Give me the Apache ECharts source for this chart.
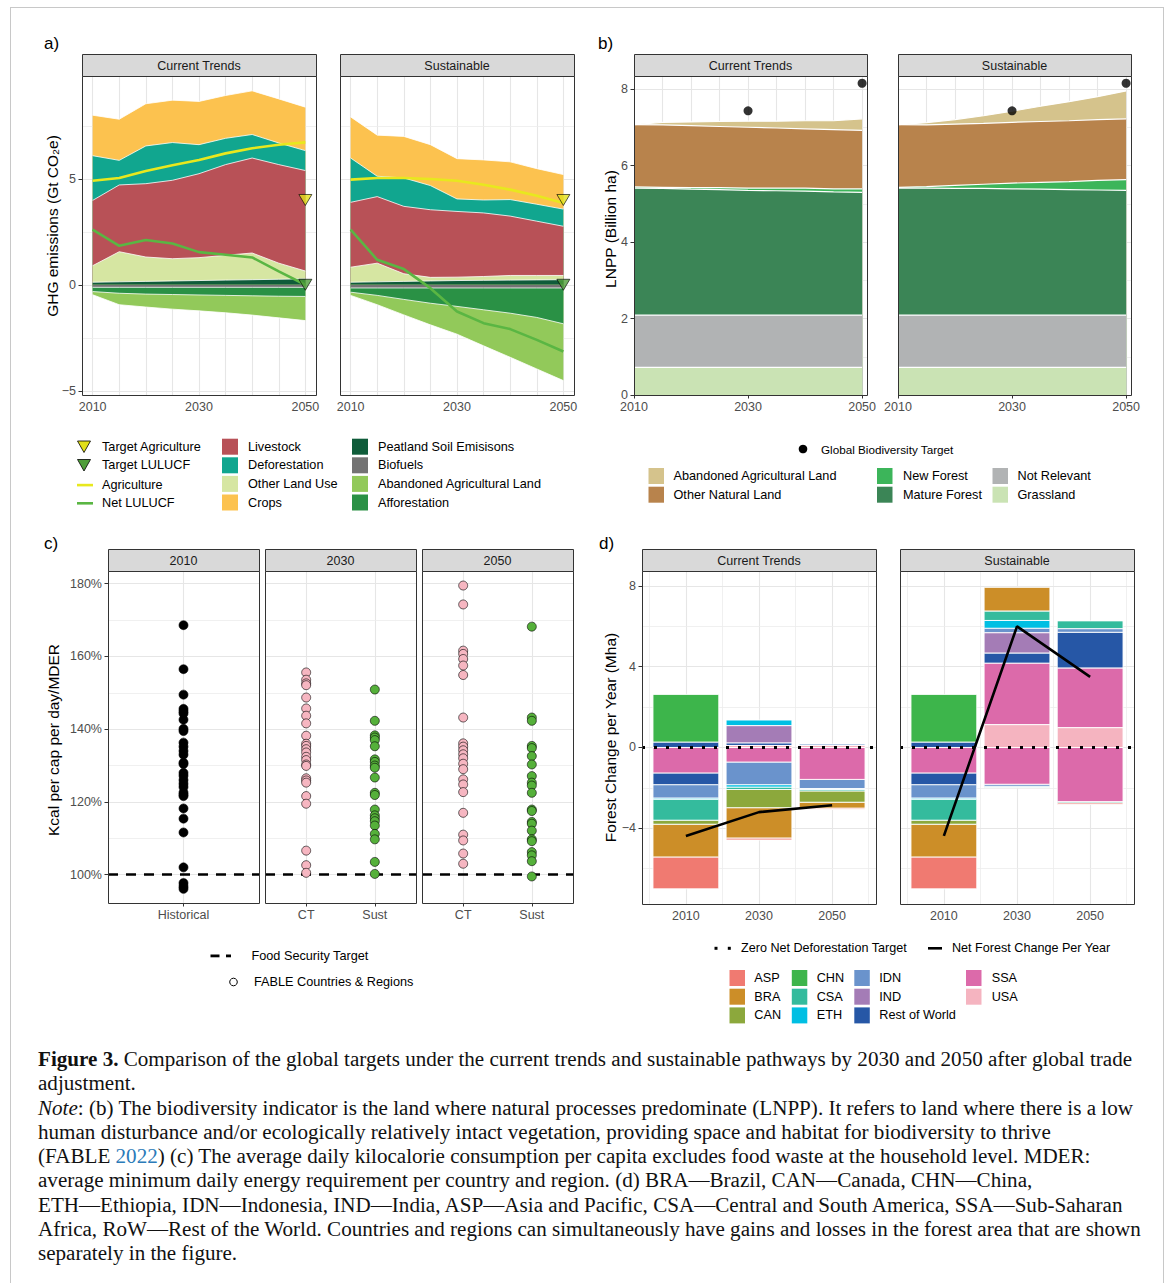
<!DOCTYPE html>
<html>
<head>
<meta charset="utf-8">
<title>Figure 3</title>
<script src="https://cdn.jsdelivr.net/npm/echarts@6.0.0/dist/echarts.min.js"></script>
<style>
  html, body { margin: 0; padding: 0; background: #fff; }
  #wrap { position: relative; width: 1170px; height: 1283px; overflow: hidden; }
  #chart { position: absolute; left: 0; top: 0; width: 1170px; height: 1040px; }
  #frame { position: absolute; left: 10px; top: 7px; width: 1152px; height: 1400px; border: 1.5px solid #c8c8c8; }
  #caption { position: absolute; left: 38px; top: 1047px; font-family: "Liberation Serif", "Times New Roman", serif;
             font-size: 21.1px; line-height: 24.25px; color: #111; white-space: nowrap; }
  #caption .ref { color: #2b7bb9; }
</style>
</head>
<body>
<div id="wrap">
  <div id="frame"></div>
  <div id="chart"></div>
  <div id="caption">
    <div><b>Figure 3.</b> Comparison of the global targets under the current trends and sustainable pathways by 2030 and 2050 after global trade</div>
    <div>adjustment.</div>
    <div><i>Note</i>: (b) The biodiversity indicator is the land where natural processes predominate (LNPP). It refers to land where there is a low</div>
    <div>human disturbance and/or ecologically relatively intact vegetation, providing space and habitat for biodiversity to thrive</div>
    <div>(FABLE <span class="ref">2022</span>) (c) The average daily kilocalorie consumption per capita excludes food waste at the household level. MDER:</div>
    <div>average minimum daily energy requirement per country and region. (d) BRA—Brazil, CAN—Canada, CHN—China,</div>
    <div>ETH—Ethiopia, IDN—Indonesia, IND—India, ASP—Asia and Pacific, CSA—Central and South America, SSA—Sub-Saharan</div>
    <div>Africa, RoW—Rest of the World. Countries and regions can simultaneously have gains and losses in the forest area that are shown</div>
    <div>separately in the figure.</div>
  </div>
</div>
<script>
// ---------- data: panel a (GHG emissions, Gt CO2e) ----------
const years = [2010, 2015, 2020, 2025, 2030, 2035, 2040, 2045, 2050];

const peatCT      = [0.12, 0.14, 0.16, 0.18, 0.20, 0.22, 0.24, 0.26, 0.28];
const otherLuCT   = [0.78, 1.42, 1.15, 1.05, 1.08, 1.17, 1.26, 0.76, 0.37];
const livestockCT = [3.08, 3.15, 3.46, 3.70, 3.96, 4.28, 4.48, 4.65, 4.74];
const deforCT     = [2.11, 1.16, 1.78, 1.78, 1.37, 1.24, 1.11, 1.02, 0.94];
const cropsCT     = [1.91, 1.94, 1.99, 2.00, 2.04, 2.02, 2.06, 2.08, 2.05];
const biofuelCT   = [-0.12, -0.12, -0.12, -0.12, -0.12, -0.12, -0.12, -0.12, -0.12];
const afforCT     = [-0.20, -0.28, -0.32, -0.34, -0.36, -0.38, -0.40, -0.42, -0.43];
const abandCT     = [-0.15, -0.54, -0.61, -0.69, -0.75, -0.82, -0.91, -1.02, -1.14];
const agriCT      = [4.91, 5.04, 5.37, 5.64, 5.89, 6.20, 6.44, 6.61, 6.72];
const lulucfCT    = [2.60, 1.84, 2.11, 1.95, 1.54, 1.42, 1.29, 0.63, 0.00];

const peatS       = [0.12, 0.14, 0.16, 0.18, 0.20, 0.21, 0.22, 0.23, 0.24];
const otherLuS    = [0.71, 0.88, 0.36, 0.17, 0.16, 0.18, 0.22, 0.21, 0.20];
const livestockS  = [3.06, 3.14, 3.18, 3.19, 3.10, 3.00, 2.80, 2.56, 2.32];
const deforS      = [2.09, 0.96, 1.34, 1.14, 0.59, 0.61, 0.78, 0.80, 0.81];
const cropsS      = [1.94, 1.94, 1.96, 1.93, 1.90, 1.89, 1.78, 1.68, 1.63];
const biofuelS    = [-0.15, -0.15, -0.15, -0.15, -0.15, -0.15, -0.15, -0.15, -0.15];
const afforS      = [-0.20, -0.35, -0.54, -0.72, -0.87, -1.03, -1.19, -1.39, -1.69];
const abandS      = [-0.15, -0.44, -0.73, -1.02, -1.31, -1.70, -2.08, -2.43, -2.68];
const agriS       = [4.96, 5.04, 5.04, 4.99, 4.91, 4.72, 4.49, 4.20, 3.86];
const lulucfS     = [2.60, 1.18, 0.74, -0.16, -1.26, -1.81, -2.09, -2.60, -3.15];

const targetAgri = 4.0;     // 2050
const targetLulucf = 0.0;   // 2050

// ---------- data: panel b (LNPP, billion ha) ----------
const grassCT     = [0.72, 0.72, 0.72, 0.72, 0.72, 0.72, 0.72, 0.72, 0.72];
const notRelCT    = [1.37, 1.37, 1.37, 1.37, 1.37, 1.37, 1.37, 1.37, 1.37];
const matureCT    = [3.32, 3.31, 3.29, 3.28, 3.26, 3.25, 3.24, 3.22, 3.21];
const newForCT    = [0.03, 0.03, 0.04, 0.05, 0.06, 0.07, 0.08, 0.08, 0.09];
const otherNatCT  = [1.63, 1.63, 1.62, 1.60, 1.59, 1.57, 1.55, 1.55, 1.53];
const abandLandCT = [0.00, 0.07, 0.10, 0.13, 0.16, 0.18, 0.21, 0.23, 0.30];

const grassS      = [0.72, 0.72, 0.72, 0.72, 0.72, 0.72, 0.72, 0.72, 0.72];
const notRelS     = [1.37, 1.37, 1.37, 1.37, 1.37, 1.37, 1.37, 1.37, 1.37];
const matureS     = [3.32, 3.32, 3.31, 3.31, 3.30, 3.29, 3.28, 3.27, 3.26];
const newForS     = [0.02, 0.04, 0.08, 0.11, 0.15, 0.18, 0.21, 0.25, 0.28];
const otherNatS   = [1.64, 1.61, 1.60, 1.59, 1.59, 1.59, 1.59, 1.59, 1.59];
const abandLandS  = [0.00, 0.06, 0.12, 0.20, 0.29, 0.40, 0.50, 0.60, 0.73];

const bioTargetYears = [2030, 2050];
const bioTarget = [7.43, 8.15];

// ---------- data: panel c (kcal per cap per day / MDER, %) ----------
const hist2010 = [168.6, 156.5, 149.5, 145.6, 144.9, 144.3, 142.6, 140.1, 139.5, 136.3, 135.2, 134.0, 133.0, 130.8, 130.4,
                  128.0, 127.2, 126.0, 125.0, 124.1, 122.6, 122.0, 121.6, 118.2, 115.4, 111.6, 102.0, 97.7, 96.8, 96.1];
const ct2030   = [155.6, 153.6, 152.6, 152.1, 148.7, 145.7, 143.7, 141.6, 138.2, 136.0, 135.4, 134.5, 133.6, 132.4, 131.5,
                  130.3, 129.9, 126.5, 125.9, 125.3, 121.6, 119.5, 106.6, 102.6, 100.5];
const sust2030 = [150.9, 142.3, 138.3, 137.7, 137.0, 135.3, 131.7, 131.0, 130.0, 129.4, 126.7, 122.5, 121.9, 117.9, 116.3,
                  115.5, 114.7, 113.5, 111.2, 109.7, 103.5, 100.2];
const ct2050   = [179.5, 174.3, 161.6, 160.7, 159.3, 157.5, 154.9, 143.2, 136.1, 135.2, 134.2, 133.1, 132.0, 130.5, 129.0,
                  126.2, 124.8, 122.7, 117.0, 111.0, 109.4, 105.8, 103.0];
const sust2050 = [168.2, 143.2, 142.3, 135.4, 134.8, 132.6, 130.3, 127.1, 125.3, 124.5, 122.5, 117.9, 117.5, 114.5, 114.0,
                  112.1, 109.7, 109.2, 106.2, 105.3, 103.7, 99.5];
const foodTarget = 100;

// ---------- data: panel d (forest change per year, Mha) ----------
const dYears  = ['2010', '2030', '2050'];
const regions = ['ASP', 'BRA', 'CAN', 'CHN', 'CSA', 'ETH', 'IDN', 'IND', 'Rest of World', 'SSA', 'USA'];
//                    ASP    BRA    CAN    CHN   CSA    ETH    IDN    IND   RoW    SSA    USA
const ctGain2010 = [0,     0,     0,     2.37, 0,     0,     0,     0,    0.26,  0,     0];
const ctLoss2010 = [-1.58, -1.62, -0.20, 0,    -1.04, -0.06, -0.66, 0,    -0.58, -1.26, 0];
const ctGain2030 = [0,     0,     0,     0,    0,     0.28,  0,     0.86, 0.12,  0,     0.10];
const ctLoss2030 = [-0.10, -1.50, -0.90, 0,    -0.12, -0.12, -1.12, 0,    0,     -0.72, 0];
const ctGain2050 = [0,     0,     0,     0,    0,     0,     0.07,  0,    0,     0,     0.10];
const ctLoss2050 = [-0.07, -0.29, -0.56, 0,    -0.07, -0.05, -0.45, 0,    0,     -1.58, 0];
const sGain2010  = [0,     0,     0,     2.37, 0,     0,     0,     0,    0.26,  0,     0];
const sLoss2010  = [-1.58, -1.62, -0.20, 0,    -1.04, -0.06, -0.66, 0,    -0.58, -1.26, 0];
const sGain2030  = [0,     1.18,  0,     0,    0.46,  0.39,  0.22,  1.01, 0.50,  3.04,  1.13];
const sLoss2030  = [0,     0,     0,     0,    -0.06, 0,     -0.10, 0,    0,     -1.82, 0];
const sGain2050  = [0,     0,     0,     0,    0.39,  0,     0.18,  0,    1.77,  2.95,  0.98];
const sLoss2050  = [-0.08, 0,     0,     0,    -0.06, 0,     0,     0,    0,     -2.68, 0];
const netCT = [-4.38, -3.20, -2.86];
const netS  = [-4.38, 6.00, 3.50];

// ---------- styling ----------
const FONT = '"Liberation Sans", Arial, Helvetica, sans-serif';
const regionColors = ['#f07a71', '#cc8e28', '#8ca83c', '#3db54b', '#34bb9d', '#00bfe3',
                      '#6a93cc', '#a47cb6', '#2657a6', '#dc6aaa', '#f5b4c0'];
const cA = { livestock: '#b85157', defor: '#11a68f', otherLu: '#d6e6a2', crops: '#fcc24f',
             peat: '#0f5c3a', biofuel: '#737373', aband: '#92c95a', affor: '#2a9145',
             agri: '#e8e81e', lulucf: '#5ab643', tAgri: '#e2e01a', tLulucf: '#4f9e3a' };
const cB = { aband: '#d5c38c', otherNat: '#b8834c', newFor: '#3cb55a', mature: '#3b8556',
             notRel: '#b1b3b4', grass: '#cae3b4' };

const grids = [], xAxes = [], yAxes = [], series = [], gfx = [];

function text(x, y, s, o) {
  o = o || {};
  gfx.push({
    type: 'text', x: x, y: y, rotation: o.rot || 0, z: 120, silent: true,
    style: {
      text: s, fill: o.color || '#000',
      font: (o.weight || 'normal') + ' ' + (o.size || 12.7) + 'px ' + FONT,
      textAlign: o.align || 'left', textVerticalAlign: 'middle',
      align: o.align || 'left', verticalAlign: 'middle'
    }
  });
}
function rect(x, y, w, h, fill, stroke, lw, z) {
  gfx.push({ type: 'rect', z: z || 110, silent: true, shape: { x: x, y: y, width: w, height: h },
             style: { fill: fill, stroke: stroke || null, lineWidth: lw || 0 } });
}

// one facet panel: grid, axes, hand-drawn grid lines, border and strip
function panel(p) {
  const gi = grids.length;
  grids.push({ left: p.x, top: p.y, width: p.w, height: p.h, containLabel: false });
  const lab = { color: '#4d4d4d', fontSize: 12.5, fontFamily: FONT };
  xAxes.push({
    gridIndex: gi, type: 'value', min: p.xr[0], max: p.xr[1],
    splitLine: { show: false }, axisLine: { show: false },
    axisTick: { show: true, customValues: p.xt, length: 3.5, lineStyle: { color: '#333', width: 1 } },
    axisLabel: Object.assign({ show: true, customValues: p.xt, margin: 5, formatter: p.xf }, lab)
  });
  yAxes.push({
    gridIndex: gi, type: 'value', min: p.yr[0], max: p.yr[1],
    splitLine: { show: false }, axisLine: { show: false },
    axisTick: { show: !!p.yf, customValues: p.yt, length: 3.5, lineStyle: { color: '#333', width: 1 } },
    axisLabel: Object.assign({ show: !!p.yf, customValues: p.yt, margin: 6, formatter: p.yf }, lab)
  });
  const ml = [];
  (p.vMaj || []).forEach(v => ml.push({ xAxis: v, lineStyle: { color: '#e6e6e6', width: 1.1, type: 'solid' } }));
  (p.vMin || []).forEach(v => ml.push({ xAxis: v, lineStyle: { color: '#ececec', width: 0.8, type: 'solid' } }));
  (p.hMaj || []).forEach(v => ml.push({ yAxis: v, lineStyle: { color: '#e6e6e6', width: 1.1, type: 'solid' } }));
  (p.hMin || []).forEach(v => ml.push({ yAxis: v, lineStyle: { color: '#ececec', width: 0.8, type: 'solid' } }));
  series.push({
    type: 'line', xAxisIndex: gi, yAxisIndex: gi, data: [], silent: true, z: 1,
    markLine: { silent: true, symbol: ['none', 'none'], animation: false, z: 1, label: { show: false }, data: ml }
  });
  rect(p.x + 0.5, p.y + 0.5, p.w, p.h, 'none', '#333', 1, 115);
  if (p.strip) {
    rect(p.x + 0.5, p.y - p.sh + 0.5, p.w, p.sh, '#d9d9d9', '#333', 1, 115);
    text(p.x + p.w / 2, p.y - p.sh / 2 + 0.5, p.strip, { align: 'center', size: 12.5, color: '#1a1a1a' });
  }
  return gi;
}

const minus = v => (v < 0 ? '\u2212' + Math.abs(v) : String(v));

// running sums of layer thicknesses (one sign at a time)
function cumulate(layers) {
  const out = [];
  let acc = years.map(() => 0);
  layers.forEach(l => { acc = acc.map((a, k) => a + l[k]); out.push(acc); });
  return out;
}
// area filled down to zero; layers drawn outermost first so inner ones paint over them
function area(gi, name, color, vals, lw) {
  series.push({
    type: 'line', name: name, xAxisIndex: gi, yAxisIndex: gi,
    symbol: 'none', showSymbol: false, silent: true, z: 2,
    lineStyle: { color: '#fff', width: lw }, areaStyle: { color: color, opacity: 1, origin: 'auto' },
    itemStyle: { color: color },
    data: years.map((y, k) => [y, vals[k]])
  });
}
function stackAreas(gi, layers, colors, names, lw) {
  const cum = cumulate(layers);
  for (let k = cum.length - 1; k >= 0; k--) area(gi, names[k], colors[k], cum[k], lw);
}
function line(gi, name, color, xs, vals, w, z) {
  series.push({
    type: 'line', name: name, xAxisIndex: gi, yAxisIndex: gi, symbol: 'none', showSymbol: false, silent: true,
    z: z || 4, lineStyle: { color: color, width: w }, itemStyle: { color: color },
    data: xs.map((x, k) => [x, vals[k]])
  });
}

// ---------- panel a ----------
const aCommon = { y: 76, w: 234, h: 319, sh: 22, xr: [2008, 2052], yr: [-5.2, 9.85],
  xt: [2010, 2030, 2050], xf: v => String(v), yt: [-5, 0, 5],
  vMaj: [2010, 2015, 2020, 2025, 2030, 2035, 2040, 2045, 2050], hMaj: [-5, 0, 5], hMin: [-2.5, 2.5, 7.5] };
const ga = [
  panel(Object.assign({}, aCommon, { x: 82, strip: 'Current Trends', yf: minus })),
  panel(Object.assign({}, aCommon, { x: 340, strip: 'Sustainable' }))
];
[[peatCT, otherLuCT, livestockCT, deforCT, cropsCT, biofuelCT, afforCT, abandCT, agriCT, lulucfCT],
 [peatS, otherLuS, livestockS, deforS, cropsS, biofuelS, afforS, abandS, agriS, lulucfS]].forEach((d, f) => {
  const gi = ga[f];
  stackAreas(gi, [d[0], d[1], d[2], d[3], d[4]],
    [cA.peat, cA.otherLu, cA.livestock, cA.defor, cA.crops],
    ['Peatland Soil Emisisons', 'Other Land Use', 'Livestock', 'Deforestation', 'Crops'], 0.8);
  stackAreas(gi, [d[5], d[6], d[7]],
    [cA.biofuel, cA.affor, cA.aband],
    ['Biofuels', 'Afforestation', 'Abandoned Agricultural Land'], 0.8);
  line(gi, 'Agriculture', cA.agri, years, d[8], 2.6, 4);
  line(gi, 'Net LULUCF', cA.lulucf, years, d[9], 2.6, 4);
  series.push({ type: 'scatter', name: 'Target Agriculture', xAxisIndex: gi, yAxisIndex: gi, z: 6, silent: true, clip: false,
    symbol: 'triangle', symbolRotate: 180, symbolSize: [13, 11],
    itemStyle: { color: cA.tAgri, borderColor: '#000', borderWidth: 0.8 }, data: [[2050, targetAgri]] });
  series.push({ type: 'scatter', name: 'Target LULUCF', xAxisIndex: gi, yAxisIndex: gi, z: 6, silent: true, clip: false,
    symbol: 'triangle', symbolRotate: 180, symbolSize: [13, 11],
    itemStyle: { color: cA.tLulucf, borderColor: '#000', borderWidth: 0.8 }, data: [[2050, targetLulucf]] });
});

// ---------- panel b ----------
const bCommon = { y: 76, w: 233, h: 319, sh: 22, xr: [2010, 2050.86], yr: [0, 8.34],
  xt: [2010, 2030, 2050], xf: v => String(v), yt: [0, 2, 4, 6, 8],
  vMaj: [2015, 2020, 2025, 2030, 2035, 2040, 2045, 2050], hMaj: [2, 4, 6, 8], hMin: [1, 3, 5, 7] };
const gb = [
  panel(Object.assign({}, bCommon, { x: 634, strip: 'Current Trends', yf: v => String(v) })),
  panel(Object.assign({}, bCommon, { x: 898, strip: 'Sustainable' }))
];
[[grassCT, notRelCT, matureCT, newForCT, otherNatCT, abandLandCT],
 [grassS, notRelS, matureS, newForS, otherNatS, abandLandS]].forEach((d, f) => {
  const gi = gb[f];
  stackAreas(gi, d,
    [cB.grass, cB.notRel, cB.mature, cB.newFor, cB.otherNat, cB.aband],
    ['Grassland', 'Not Relevant', 'Mature Forest', 'New Forest', 'Other Natural Land', 'Abandoned Agricultural Land'], 1.2);
  series.push({ type: 'scatter', name: 'Global Biodiversity Target', xAxisIndex: gi, yAxisIndex: gi, z: 6, silent: true,
    clip: false, symbolSize: 9, itemStyle: { color: '#000' },
    data: bioTargetYears.map((y, k) => [y, bioTarget[k]]) });
});

// ---------- panel c ----------
const cCommon = { y: 571, w: 151, h: 332, sh: 22, yr: [92.2, 183.5], yt: [100, 120, 140, 160, 180],
  hMaj: [100, 120, 140, 160, 180], hMin: [110, 130, 150, 170] };
const gc = [
  panel(Object.assign({}, cCommon, { x: 108, strip: '2010', xr: [0.4, 1.6], xt: [1], xf: () => 'Historical',
    vMaj: [1], yf: v => v + '%' })),
  panel(Object.assign({}, cCommon, { x: 265, strip: '2030', xr: [0.4, 2.6], xt: [1, 2], xf: v => (v === 1 ? 'CT' : 'Sust'),
    vMaj: [1, 2] })),
  panel(Object.assign({}, cCommon, { x: 422, strip: '2050', xr: [0.4, 2.6], xt: [1, 2], xf: v => (v === 1 ? 'CT' : 'Sust'),
    vMaj: [1, 2] }))
];
gc.forEach(gi => {
  series.push({ type: 'line', xAxisIndex: gi, yAxisIndex: gi, data: [], silent: true, z: 3,
    markLine: { silent: true, symbol: ['none', 'none'], animation: false, z: 3, label: { show: false },
      lineStyle: { color: '#000', width: 2.6, type: [10, 8] }, data: [{ yAxis: foodTarget }] } });
});
function dots(gi, x, vals, color) {
  series.push({ type: 'scatter', name: 'FABLE Countries & Regions', xAxisIndex: gi, yAxisIndex: gi, z: 5, silent: true,
    symbolSize: 9, itemStyle: { color: color, borderColor: '#000', borderWidth: 0.6, opacity: 1 },
    data: vals.map(v => [x, v]) });
}
dots(gc[0], 1, hist2010, '#000');
dots(gc[1], 1, ct2030, '#f6b6c1');
dots(gc[1], 2, sust2030, '#55b03a');
dots(gc[2], 1, ct2050, '#f6b6c1');
dots(gc[2], 2, sust2050, '#55b03a');

// ---------- panel d ----------
const dCommon = { y: 571, w: 234, h: 333, sh: 22, xr: [0.4, 3.6], yr: [-7.75, 8.74],
  xt: [1, 2, 3], xf: v => dYears[Math.round(v) - 1], yt: [-4, 0, 4, 8],
  vMaj: [1, 2, 3], vMin: [0.5, 1.5, 2.5, 3.5], hMaj: [-4, 0, 4, 8], hMin: [-6, -2, 2, 6] };
const gd = [
  panel(Object.assign({}, dCommon, { x: 642, strip: 'Current Trends', yf: minus })),
  panel(Object.assign({}, dCommon, { x: 900, strip: 'Sustainable' }))
];
// stacked bar segments [x, bottom, top]; last region sits next to zero, first region outermost
function barSegments(gainsByYear, lossesByYear) {
  const segs = regions.map(() => []);
  gainsByYear.forEach((yr, k) => {
    let up = 0, down = 0;
    for (let r = regions.length - 1; r >= 0; r--) {
      if (yr[r] > 0) { segs[r].push([k + 1, up, up + yr[r]]); up += yr[r]; }
      const l = lossesByYear[k][r];
      if (l < 0) { segs[r].push([k + 1, down + l, down]); down += l; }
    }
  });
  return segs;
}
const halfBar = 0.45;
[[[ctGain2010, ctGain2030, ctGain2050], [ctLoss2010, ctLoss2030, ctLoss2050], netCT],
 [[sGain2010, sGain2030, sGain2050], [sLoss2010, sLoss2030, sLoss2050], netS]].forEach((d, f) => {
  const gi = gd[f];
  const segs = barSegments(d[0], d[1]);
  regions.forEach((name, r) => {
    const color = regionColors[r];
    series.push({
      type: 'custom', name: name, xAxisIndex: gi, yAxisIndex: gi, z: 2, silent: true,
      encode: { x: 0, y: [1, 2] },
      renderItem: (params, api) => {
        const x = api.value(0), lo = api.value(1), hi = api.value(2);
        const a = api.coord([x - halfBar, hi]), b = api.coord([x + halfBar, lo]);
        return { type: 'rect', shape: { x: a[0], y: a[1], width: b[0] - a[0], height: b[1] - a[1] },
                 style: { fill: color, stroke: '#fff', lineWidth: 0.9 } };
      },
      data: segs[r]
    });
  });
  series.push({ type: 'line', xAxisIndex: gi, yAxisIndex: gi, data: [], silent: true, z: 8,
    markLine: { silent: true, symbol: ['none', 'none'], animation: false, z: 8, label: { show: false },
      lineStyle: { color: '#000', width: 3, type: [3, 9], cap: 'butt' }, data: [{ yAxis: 0 }] } });
  line(gi, 'Net Forest Change Per Year', '#000', [1, 2, 3], d[2], 2.6, 9);
});

// ---------- titles, panel letters ----------
text(44, 43.5, 'a)', { size: 17 });
text(598, 43.5, 'b)', { size: 17 });
text(44, 543, 'c)', { size: 17 });
text(599, 543, 'd)', { size: 17 });
text(52, 226, 'GHG emissions (Gt CO\u2082e)', { size: 15.5, rot: Math.PI / 2, align: 'center' });
text(610.5, 229, 'LNPP (Billion ha)', { size: 15.5, rot: Math.PI / 2, align: 'center' });
text(53.5, 740, 'Kcal per cap per day/MDER', { size: 15.5, rot: Math.PI / 2, align: 'center' });
text(610, 737.5, 'Forest Change per Year (Mha)', { size: 15.5, rot: Math.PI / 2, align: 'center' });

// ---------- legend a ----------
gfx.push({ type: 'polygon', z: 110, silent: true, shape: { points: [[77.5, 441], [90.5, 441], [84, 452.5]] },
  style: { fill: cA.tAgri, stroke: '#000', lineWidth: 0.8 } });
gfx.push({ type: 'polygon', z: 110, silent: true, shape: { points: [[77.5, 459.5], [90.5, 459.5], [84, 471]] },
  style: { fill: cA.tLulucf, stroke: '#000', lineWidth: 0.8 } });
rect(77, 483.8, 16, 2.6, cA.agri);
rect(77, 502, 16, 2.6, cA.lulucf);
text(102, 446.5, 'Target Agriculture');
text(102, 465, 'Target LULUCF');
text(102, 485, 'Agriculture');
text(102, 503.3, 'Net LULUCF');
[['Livestock', cA.livestock], ['Deforestation', cA.defor], ['Other Land Use', cA.otherLu], ['Crops', cA.crops]]
  .forEach((e, k) => { const yc = 446.7 + k * 18.6; rect(222, yc - 8, 16, 16, e[1]); text(248, yc, e[0]); });
[['Peatland Soil Emisisons', cA.peat], ['Biofuels', cA.biofuel], ['Abandoned Agricultural Land', cA.aband], ['Afforestation', cA.affor]]
  .forEach((e, k) => { const yc = 446.7 + k * 18.6; rect(352, yc - 8, 16, 16, e[1]); text(378, yc, e[0]); });

// ---------- legend b ----------
gfx.push({ type: 'circle', z: 110, silent: true, shape: { cx: 803, cy: 449, r: 4.3 }, style: { fill: '#000' } });
text(821, 449, 'Global Biodiversity Target', { size: 11.7 });
[[['Abandoned Agricultural Land', cB.aband], ['Other Natural Land', cB.otherNat]],
 [['New Forest', cB.newFor], ['Mature Forest', cB.mature]],
 [['Not Relevant', cB.notRel], ['Grassland', cB.grass]]].forEach((col, c) => {
  const sx = [648.5, 877, 992.5][c], tx = [673.5, 903, 1017.5][c];
  col.forEach((e, k) => { const yc = 476 + k * 18.7; rect(sx, yc - 8, 15.5, 16, e[1]); text(tx, yc, e[0]); });
});

// ---------- legend c ----------
rect(210.5, 954.5, 9, 2.8, '#000');
rect(226, 954.5, 5, 2.8, '#000');
text(251.5, 956, 'Food Security Target');
gfx.push({ type: 'circle', z: 110, silent: true, shape: { cx: 233.5, cy: 982, r: 3.8 }, style: { fill: 'none', stroke: '#000', lineWidth: 1 } });
text(254, 982, 'FABLE Countries & Regions');

// ---------- legend d ----------
rect(714.5, 946.8, 3, 3, '#000');
rect(727.8, 946.8, 3, 3, '#000');
text(741, 948.3, 'Zero Net Deforestation Target', { size: 12.6 });
rect(928, 947, 14, 2.6, '#000');
text(952, 948.3, 'Net Forest Change Per Year', { size: 12.6 });
const dLegCols = [[0, 1, 2], [3, 4, 5], [6, 7, 8], [9, 10]];
dLegCols.forEach((col, c) => {
  const sx = [729.5, 791.8, 854.3, 966][c], tx = [754.3, 816.7, 879.3, 991.7][c];
  col.forEach((r, k) => { const yc = 978 + k * 18.7; rect(sx, yc - 8, 15.5, 16, regionColors[r]); text(tx, yc, regions[r]); });
});

// ---------- render ----------
const chart = echarts.init(document.getElementById('chart'), null, { renderer: 'svg' });
chart.setOption({
  animation: false,
  grid: grids,
  xAxis: xAxes,
  yAxis: yAxes,
  series: series,
  graphic: { elements: gfx }
});
</script>
</body>
</html>
